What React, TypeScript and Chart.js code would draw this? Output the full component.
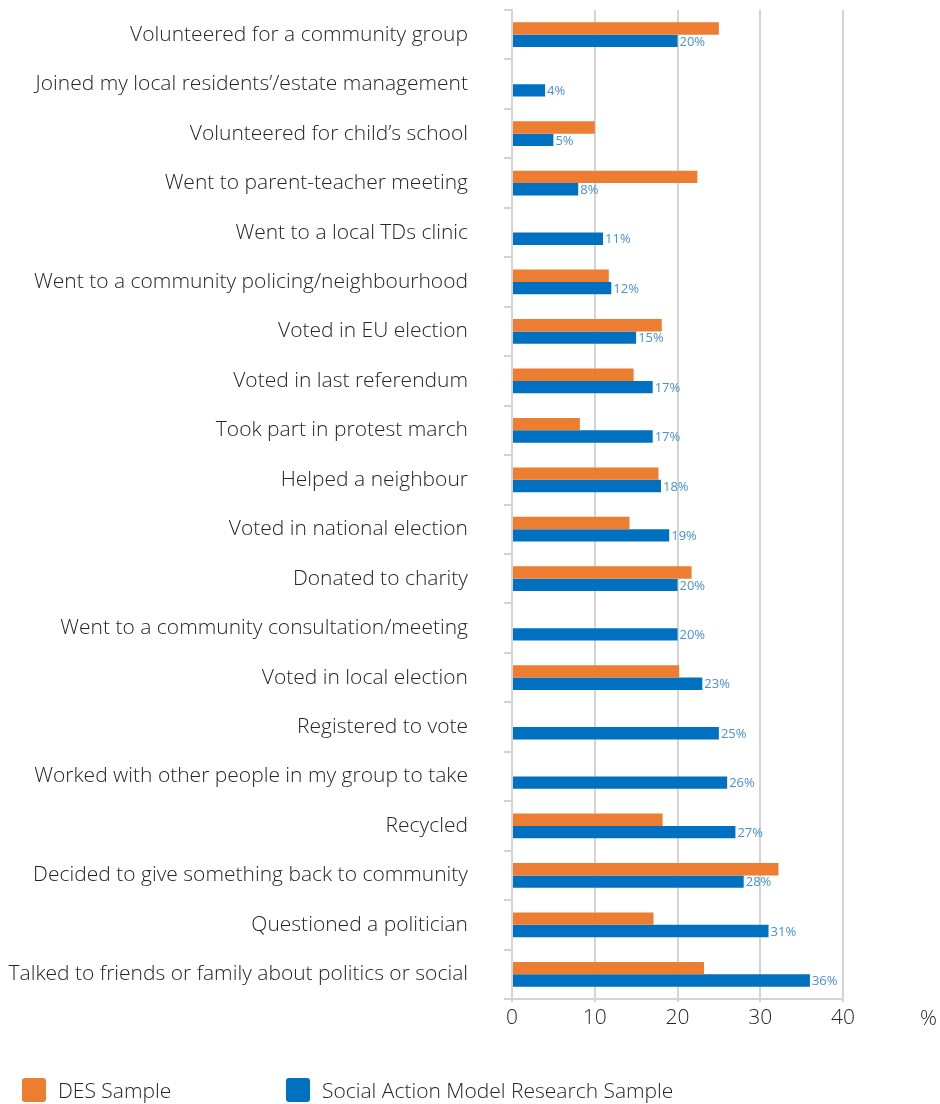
import React, { useEffect, useRef } from "react";
import { Chart, registerables } from "chart.js";

Chart.register(...registerables);

const categories: string[] = [
  "Volunteered for a community group",
  "Joined my local residents’/estate management",
  "Volunteered for child’s school",
  "Went to parent-teacher meeting",
  "Went to a local TDs clinic",
  "Went to a community policing/neighbourhood",
  "Voted in EU election",
  "Voted in last referendum",
  "Took part in protest march",
  "Helped a neighbour",
  "Voted in national election",
  "Donated to charity",
  "Went to a community consultation/meeting",
  "Voted in local election",
  "Registered to vote",
  "Worked with other people in my group to take",
  "Recycled",
  "Decided to give something back to community",
  "Questioned a politician",
  "Talked to friends or family about politics or social",
];

const desSample: (number | null)[] = [
  25, null, 10, 22.4, null, 11.7, 18.1, 14.7, 8.2, 17.7,
  14.2, 21.7, null, 20.2, null, null, 18.2, 32.2, 17.1, 23.2,
];

const samSample: number[] = [
  20, 4, 5, 8, 11, 12, 15, 17, 17, 18,
  19, 20, 20, 23, 25, 26, 27, 28, 31, 36,
];

const xTicks: number[] = [0, 10, 20, 30, 40];

const seriesNames: string[] = ["DES Sample", "Social Action Model Research Sample"];
const seriesColors: string[] = ["#ED7D31", "#0070C0"];

const FONT = "'Open Sans', Lato, sans-serif";
const TEXT = "#262626";
const GRID = "#d4d4d4";

export default function App() {
  const ref = useRef<HTMLCanvasElement | null>(null);

  useEffect(() => {
    if (!ref.current) return;
    const labelPlugin = {
      id: "valueLabels",
      afterDatasetsDraw(chart: any) {
        const ctx = chart.ctx;
        const meta = chart.getDatasetMeta(1);
        ctx.save();
        ctx.font = `400 13px ${FONT}`;
        ctx.fillStyle = "#4a90d6";
        ctx.textAlign = "left";
        ctx.textBaseline = "middle";
        meta.data.forEach((el: any, i: number) => {
          const v = samSample[i];
          if (v == null) return;
          ctx.fillText(`${v}%`, el.x + 2, el.y + 1);
        });
        // axis unit
        ctx.font = `300 21px ${FONT}`;
        ctx.fillStyle = TEXT;
        ctx.textAlign = "left";
        ctx.fillText("%", 920, chart.chartArea.bottom + 20);
        ctx.restore();
      },
    };

    const chart = new Chart(ref.current, {
      type: "bar",
      data: {
        labels: categories,
        datasets: [
          {
            label: seriesNames[0],
            data: desSample,
            backgroundColor: seriesColors[0],
            categoryPercentage: 0.5,
            barPercentage: 1.0,
          },
          {
            label: seriesNames[1],
            data: samSample,
            backgroundColor: seriesColors[1],
            categoryPercentage: 0.5,
            barPercentage: 1.0,
          },
        ],
      },
      options: {
        indexAxis: "y",
        responsive: false,
        animation: false,
        layout: { padding: { left: 0, right: 97, top: 10, bottom: 0 } },
        plugins: {
          legend: { display: false },
          tooltip: { enabled: false },
        },
        scales: {
          x: {
            min: 0,
            max: 40,
            afterBuildTicks: (scale: any) => {
              scale.ticks = xTicks.map((v) => ({ value: v }));
            },
            afterFit: (scale: any) => {
              scale.height = 105;
              scale.paddingLeft = 0;
              scale.paddingRight = 0;
            },
            grid: {
              color: GRID,
              lineWidth: 2,
              drawTicks: true,
              tickLength: 3,
            },
            border: { display: true, color: GRID, width: 2 },
            ticks: {
              color: TEXT,
              font: { family: FONT, size: 21, weight: "300" },
              padding: 3,
            },
          },
          y: {
            afterFit: (scale: any) => {
              scale.width = 512;
              scale.paddingTop = 0;
              scale.paddingBottom = 0;
            },
            grid: {
              drawOnChartArea: false,
              drawTicks: true,
              tickLength: 8,
              color: GRID,
              lineWidth: 2,
              offset: true,
            },
            border: { display: true, color: GRID, width: 2 },
            ticks: {
              color: TEXT,
              font: { family: FONT, size: 21, weight: "300" },
              padding: 36,
              autoSkip: false,
            },
          },
        },
      },
      plugins: [labelPlugin],
    } as any);
    return () => chart.destroy();
  }, []);

  const legendText: React.CSSProperties = {
    position: "absolute",
    top: 1077,
    fontFamily: FONT,
    fontWeight: 300,
    fontSize: 21,
    lineHeight: "26px",
    color: TEXT,
    whiteSpace: "nowrap",
  };
  const swatch = (left: number, color: string): React.CSSProperties => ({
    position: "absolute",
    top: 1078,
    left,
    width: 24,
    height: 24,
    borderRadius: 3,
    background: color,
  });

  return (
    <div style={{ position: "fixed", left: 0, top: 0, width: 940, height: 1104, background: "#fff" }}>
      <canvas ref={ref} width={940} height={1104} style={{ position: "absolute", left: 0, top: 0, width: 940, height: 1104 }} />
      <div style={swatch(22, seriesColors[0])} />
      <div style={{ ...legendText, left: 58 }}>{seriesNames[0]}</div>
      <div style={swatch(286, seriesColors[1])} />
      <div style={{ ...legendText, left: 322 }}>{seriesNames[1]}</div>
    </div>
  );
}
